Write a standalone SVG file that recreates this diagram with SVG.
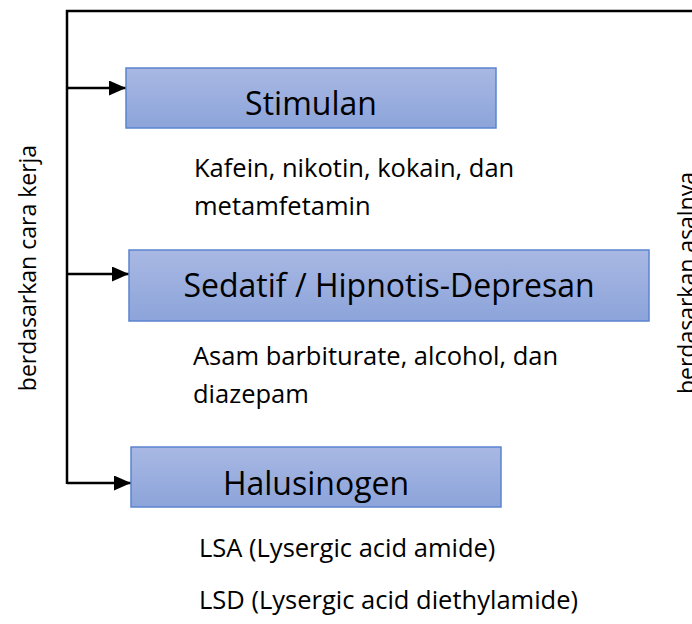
<svg xmlns="http://www.w3.org/2000/svg" width="692" height="624" viewBox="0 0 692 624">
<defs>
<linearGradient id="g" x1="0" y1="0" x2="0" y2="1">
<stop offset="0" stop-color="#A9B8E3"/>
<stop offset="1" stop-color="#8CA4DA"/>
</linearGradient>
<clipPath id="c3"><rect x="131" y="447" width="370" height="60"/></clipPath>
<marker id="ah" markerWidth="17" markerHeight="15" refX="17" refY="7.5" orient="auto" markerUnits="userSpaceOnUse">
<path d="M0,0 L17,7.5 L0,15 Z" fill="#000"/>
</marker>
<style>
.box{fill:url(#g);stroke:#5B84D0;stroke-width:1.5}
.t{font-family:"Open Sans","Noto Sans",sans-serif;fill:#000}
.bt{font-size:32px;text-anchor:middle}
.d{font-size:25.5px}
.side{font-size:23px;text-anchor:middle}
.ln{stroke:#000;stroke-width:2.5;fill:none}
</style>
</defs>
<rect width="692" height="624" fill="#fff"/>
<g id="connectors">
<path class="ln" d="M67,484 V11 H692"/>
<line class="ln" x1="67" y1="88" x2="126" y2="88" marker-end="url(#ah)"/>
<line class="ln" x1="67" y1="274" x2="129" y2="274" marker-end="url(#ah)"/>
<line class="ln" x1="67" y1="483" x2="131" y2="483" marker-end="url(#ah)"/>
</g>
<g id="stimulan">
<rect class="box" x="126" y="68" width="370" height="60"/>
<text class="t bt" x="311" y="115">Stimulan</text>
</g>
<g id="sedatif">
<rect class="box" x="129" y="250" width="520" height="71"/>
<text class="t bt" x="389" y="297">Sedatif / Hipnotis-Depresan</text>
</g>
<g id="halusinogen">
<rect class="box" x="131" y="447" width="370" height="60"/>
<text class="t bt" x="316" y="495" clip-path="url(#c3)">Halusinogen</text>
</g>
<g id="labels">
<text class="t d" x="194" y="177">Kafein, nikotin, kokain, dan</text>
<text class="t d" x="194" y="215">metamfetamin</text>
<text class="t d" x="193" y="365">Asam barbiturate, alcohol, dan</text>
<text class="t d" x="193" y="403">diazepam</text>
<text class="t d" x="199" y="557">LSA (Lysergic acid amide)</text>
<text class="t d" x="199" y="609">LSD (Lysergic acid diethylamide)</text>
<text class="t side" transform="translate(36,268) rotate(-90)">berdasarkan cara kerja</text>
<text class="t side" transform="translate(695,283) rotate(-90)">berdasarkan asalnya</text>
</g>
</svg>
